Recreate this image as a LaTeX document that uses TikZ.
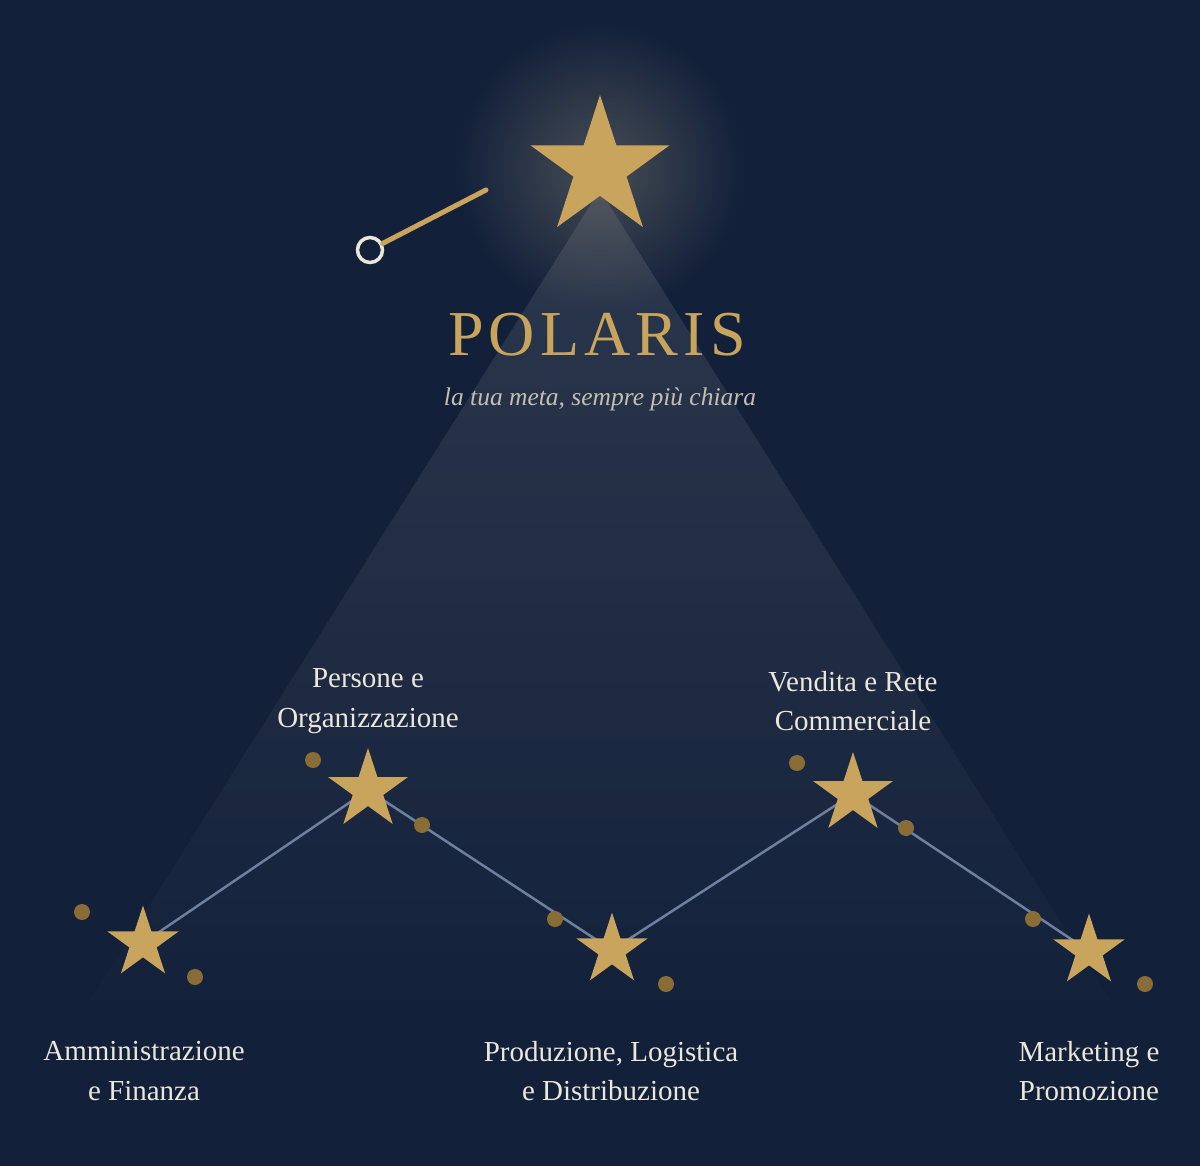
\documentclass[tikz,border=0pt]{standalone}
\usepackage{fontspec}
\setmainfont{Liberation Serif}
\newfontfamily\titlefont[LetterSpace=8]{Liberation Serif}
\usetikzlibrary{shapes.geometric,fadings}
\definecolor{night}{HTML}{12203A}
\definecolor{gold}{HTML}{C9A45C}
\definecolor{dimgold}{HTML}{8A6D36}
\definecolor{cream}{HTML}{ECE7DB}
\definecolor{haze}{HTML}{C4BFB2}
\definecolor{wire}{HTML}{6E809E}
\definecolor{beamlight}{HTML}{E0DCD0}
\definecolor{glowgray}{HTML}{B8AE90}
\tikzfading[name=beamfade, top color=transparent!0, middle color=transparent!60, bottom color=transparent!92]
\tikzfading[name=glowfade, inner color=transparent!0, outer color=transparent!100]
\pgfdeclarelayer{sky}
\pgfdeclarelayer{wires}
\pgfsetlayers{sky,wires,main}
\tikzset{
  goldstar/.style={star, star points=5, star point ratio=2.618, fill=gold,
    inner sep=0pt, outer sep=0pt, minimum size=#1},
  dept/.style={text=cream, align=center, font=\fontsize{29}{39.5}\selectfont}
}

\begin{document}
\begin{tikzpicture}[x=1pt, y=-1pt]
  \useasboundingbox (0,0) rectangle (1200,1166);

  \begin{pgfonlayer}{sky}
    \fill[night] (0,0) rectangle (1200,1166); % sky
    % light cone under the star
    \fill[beamlight, fill opacity=0.13, path fading=beamfade] (600,190) -- (90,1000) -- (1110,1000) -- cycle;
    % glow round the star
    \fill[glowgray, fill opacity=0.32, path fading=glowfade] (600,168) circle (145);
  \end{pgfonlayer}

  % Polaris
  \node[goldstar=146pt] (polaris) at (600,168) {};

  % shooting star
  \coordinate (tail) at (486,190);
  \node[circle, draw=cream, line width=3.5pt, fill=night, minimum size=25pt, inner sep=0pt] (comet) at (370,250) {};
  \draw[gold, line width=5pt, line cap=round] (comet) -- (tail);

  \node[text=gold, font=\titlefont\fontsize{64}{70}\selectfont] (title) at (597,335) {POLARIS};
  \node[text=haze, font=\itshape\fontsize{25.5}{28}\selectfont] (motto) at (600,399) {la tua meta, sempre più chiara};

  % constellation
  \node[goldstar=75pt] (s1) at (143,943) {};
  \node[goldstar=84pt] (s2) at (368,790) {};
  \node[goldstar=75pt] (s3) at (612,950) {};
  \node[goldstar=84pt] (s4) at (853,794) {};
  \node[goldstar=75pt] (s5) at (1089,951) {};

  \begin{pgfonlayer}{wires}
    \draw[wire, line width=2.5pt] (s1.center) -- (s2.center) -- (s3.center) -- (s4.center) -- (s5.center);
  \end{pgfonlayer}

  % small satellites
  \foreach \p in {(82,912), (195,977), (313,760), (422,825), (555,919),
                  (666,984), (797,763), (906,828), (1033,919), (1145,984)}
    \fill[dimgold] \p circle (8);

  % labels
  \node[dept] (l2) at (368,701) {Persone e\\Organizzazione};
  \node[dept] (l4) at (853,701) {Vendita e Rete\\Commerciale};
  \node[dept] (l1) at (144,1071) {Amministrazione\\e Finanza};
  \node[dept] (l3) at (611,1071) {Produzione, Logistica\\e Distribuzione};
  \node[dept] (l5) at (1089,1071) {Marketing e\\Promozione};
\end{tikzpicture}
\end{document}
